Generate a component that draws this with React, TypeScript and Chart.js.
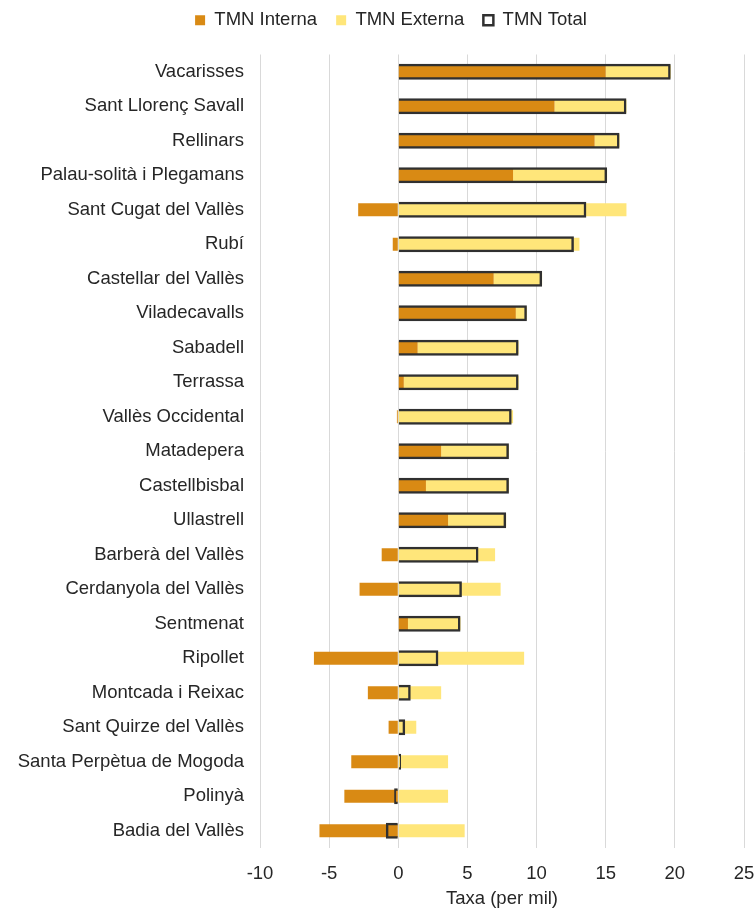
import React, { useEffect, useRef } from 'react';
import { Chart, registerables } from 'chart.js';

Chart.register(...registerables);

const categories = [
  'Vacarisses',
  'Sant Llorenç Savall',
  'Rellinars',
  'Palau-solità i Plegamans',
  'Sant Cugat del Vallès',
  'Rubí',
  'Castellar del Vallès',
  'Viladecavalls',
  'Sabadell',
  'Terrassa',
  'Vallès Occidental',
  'Matadepera',
  'Castellbisbal',
  'Ullastrell',
  'Barberà del Vallès',
  'Cerdanyola del Vallès',
  'Sentmenat',
  'Ripollet',
  'Montcada i Reixac',
  'Sant Quirze del Vallès',
  'Santa Perpètua de Mogoda',
  'Polinyà',
  'Badia del Vallès',
];

const tmnInterna = [15.0, 11.3, 14.2, 8.3, -2.9, -0.4, 6.9, 8.5, 1.4, 0.4, -0.1, 3.1, 2.0, 3.6, -1.2, -2.8, 0.7, -6.1, -2.2, -0.7, -3.4, -3.9, -5.7];
const tmnExterna = [4.7, 5.2, 1.8, 6.8, 16.5, 13.1, 3.5, 0.8, 7.3, 8.3, 8.3, 4.9, 6.0, 4.2, 7.0, 7.4, 3.8, 9.1, 3.1, 1.3, 3.6, 3.6, 4.8];
const tmnTotal = [19.7, 16.5, 16.0, 15.1, 13.6, 12.7, 10.4, 9.3, 8.7, 8.7, 8.2, 8.0, 8.0, 7.8, 5.8, 4.6, 4.5, 2.9, 0.9, 0.5, 0.2, -0.3, -0.9];

const xMin = -10;
const xMax = 25;
const xStep = 5;
const xTitle = 'Taxa (per mil)';
const seriesNames = ['TMN Interna', 'TMN Externa', 'TMN Total'];

const FONT = "'Liberation Sans', Arial, sans-serif";
const TEXT = '#262626';

export default function App() {
  const ref = useRef<HTMLCanvasElement>(null);

  useEffect(() => {
    document.body.style.margin = '0';
    const canvas = ref.current;
    if (!canvas) return;

    const legendTweak = {
      id: 'legendTweak',
      beforeInit(chart: any) {
        const orig = chart.legend.fit;
        chart.legend.fit = function () {
          orig.call(this);
          this.height += 15;
        };
      },
      afterLayout(chart: any) {
        const lg = chart.legend;
        if (lg) {
          lg.left += 19;
          lg.right += 19;
        }
      },
    };

    const chart = new Chart(canvas, {
      type: 'bar',
      data: {
        labels: categories,
        datasets: [
          {
            label: seriesNames[0],
            data: tmnInterna,
            backgroundColor: '#D98A14',
            borderWidth: 0,
            stack: 'parts',
            grouped: false,
            barThickness: 13,
            inflateAmount: 0,
            order: 1,
          },
          {
            label: seriesNames[1],
            data: tmnExterna,
            backgroundColor: '#FFE67A',
            borderWidth: 0,
            stack: 'parts',
            grouped: false,
            barThickness: 13,
            inflateAmount: 0,
            order: 2,
          },
          {
            label: seriesNames[2],
            data: tmnTotal,
            backgroundColor: 'rgba(0,0,0,0)',
            borderColor: '#303030',
            borderWidth: 2.5,
            stack: 'total',
            grouped: false,
            barThickness: 16,
            inflateAmount: 0,
            order: 0,
          },
        ] as any,
      },
      plugins: [legendTweak],
      options: {
        indexAxis: 'y',
        animation: false,
        responsive: false,
        maintainAspectRatio: false,
        layout: { padding: { left: 0, right: 12, top: -8, bottom: 0 } },
        plugins: {
          legend: {
            position: 'top',
            labels: {
              boxWidth: 10,
              boxHeight: 10,
              padding: 19,
              color: TEXT,
              font: { family: FONT, size: 18.5 },
              sort: (a: any, b: any) => a.datasetIndex - b.datasetIndex,
            },
          },
          tooltip: { enabled: false },
        },
        scales: {
          x: {
            stacked: true,
            min: xMin,
            max: xMax,
            ticks: {
              stepSize: xStep,
              padding: 17,
              color: TEXT,
              font: { family: FONT, size: 18.5, lineHeight: 1 },
            },
            grid: { color: '#D9D9D9', lineWidth: 1, drawTicks: false },
            border: { display: false },
            title: {
              display: true,
              text: xTitle,
              color: TEXT,
              font: { family: FONT, size: 18.5, lineHeight: 1 },
              padding: { top: 7, bottom: 0 },
            },
            afterFit: (scale: any) => {
              scale.height = 60;
              scale.paddingLeft = 0;
              scale.paddingRight = 0;
            },
          },
          y: {
            stacked: true,
            ticks: {
              padding: 16,
              color: TEXT,
              font: { family: FONT, size: 18.5 },
              autoSkip: false,
            },
            grid: { display: false, drawTicks: false },
            border: { display: false },
            afterFit: (scale: any) => {
              scale.width = 260;
            },
          },
        },
      } as any,
    });

    return () => chart.destroy();
  }, []);

  return (
    <div style={{ width: 756, height: 908 }}>
      <canvas ref={ref} width={756} height={908} style={{ display: 'block', width: 756, height: 908 }} />
    </div>
  );
}
